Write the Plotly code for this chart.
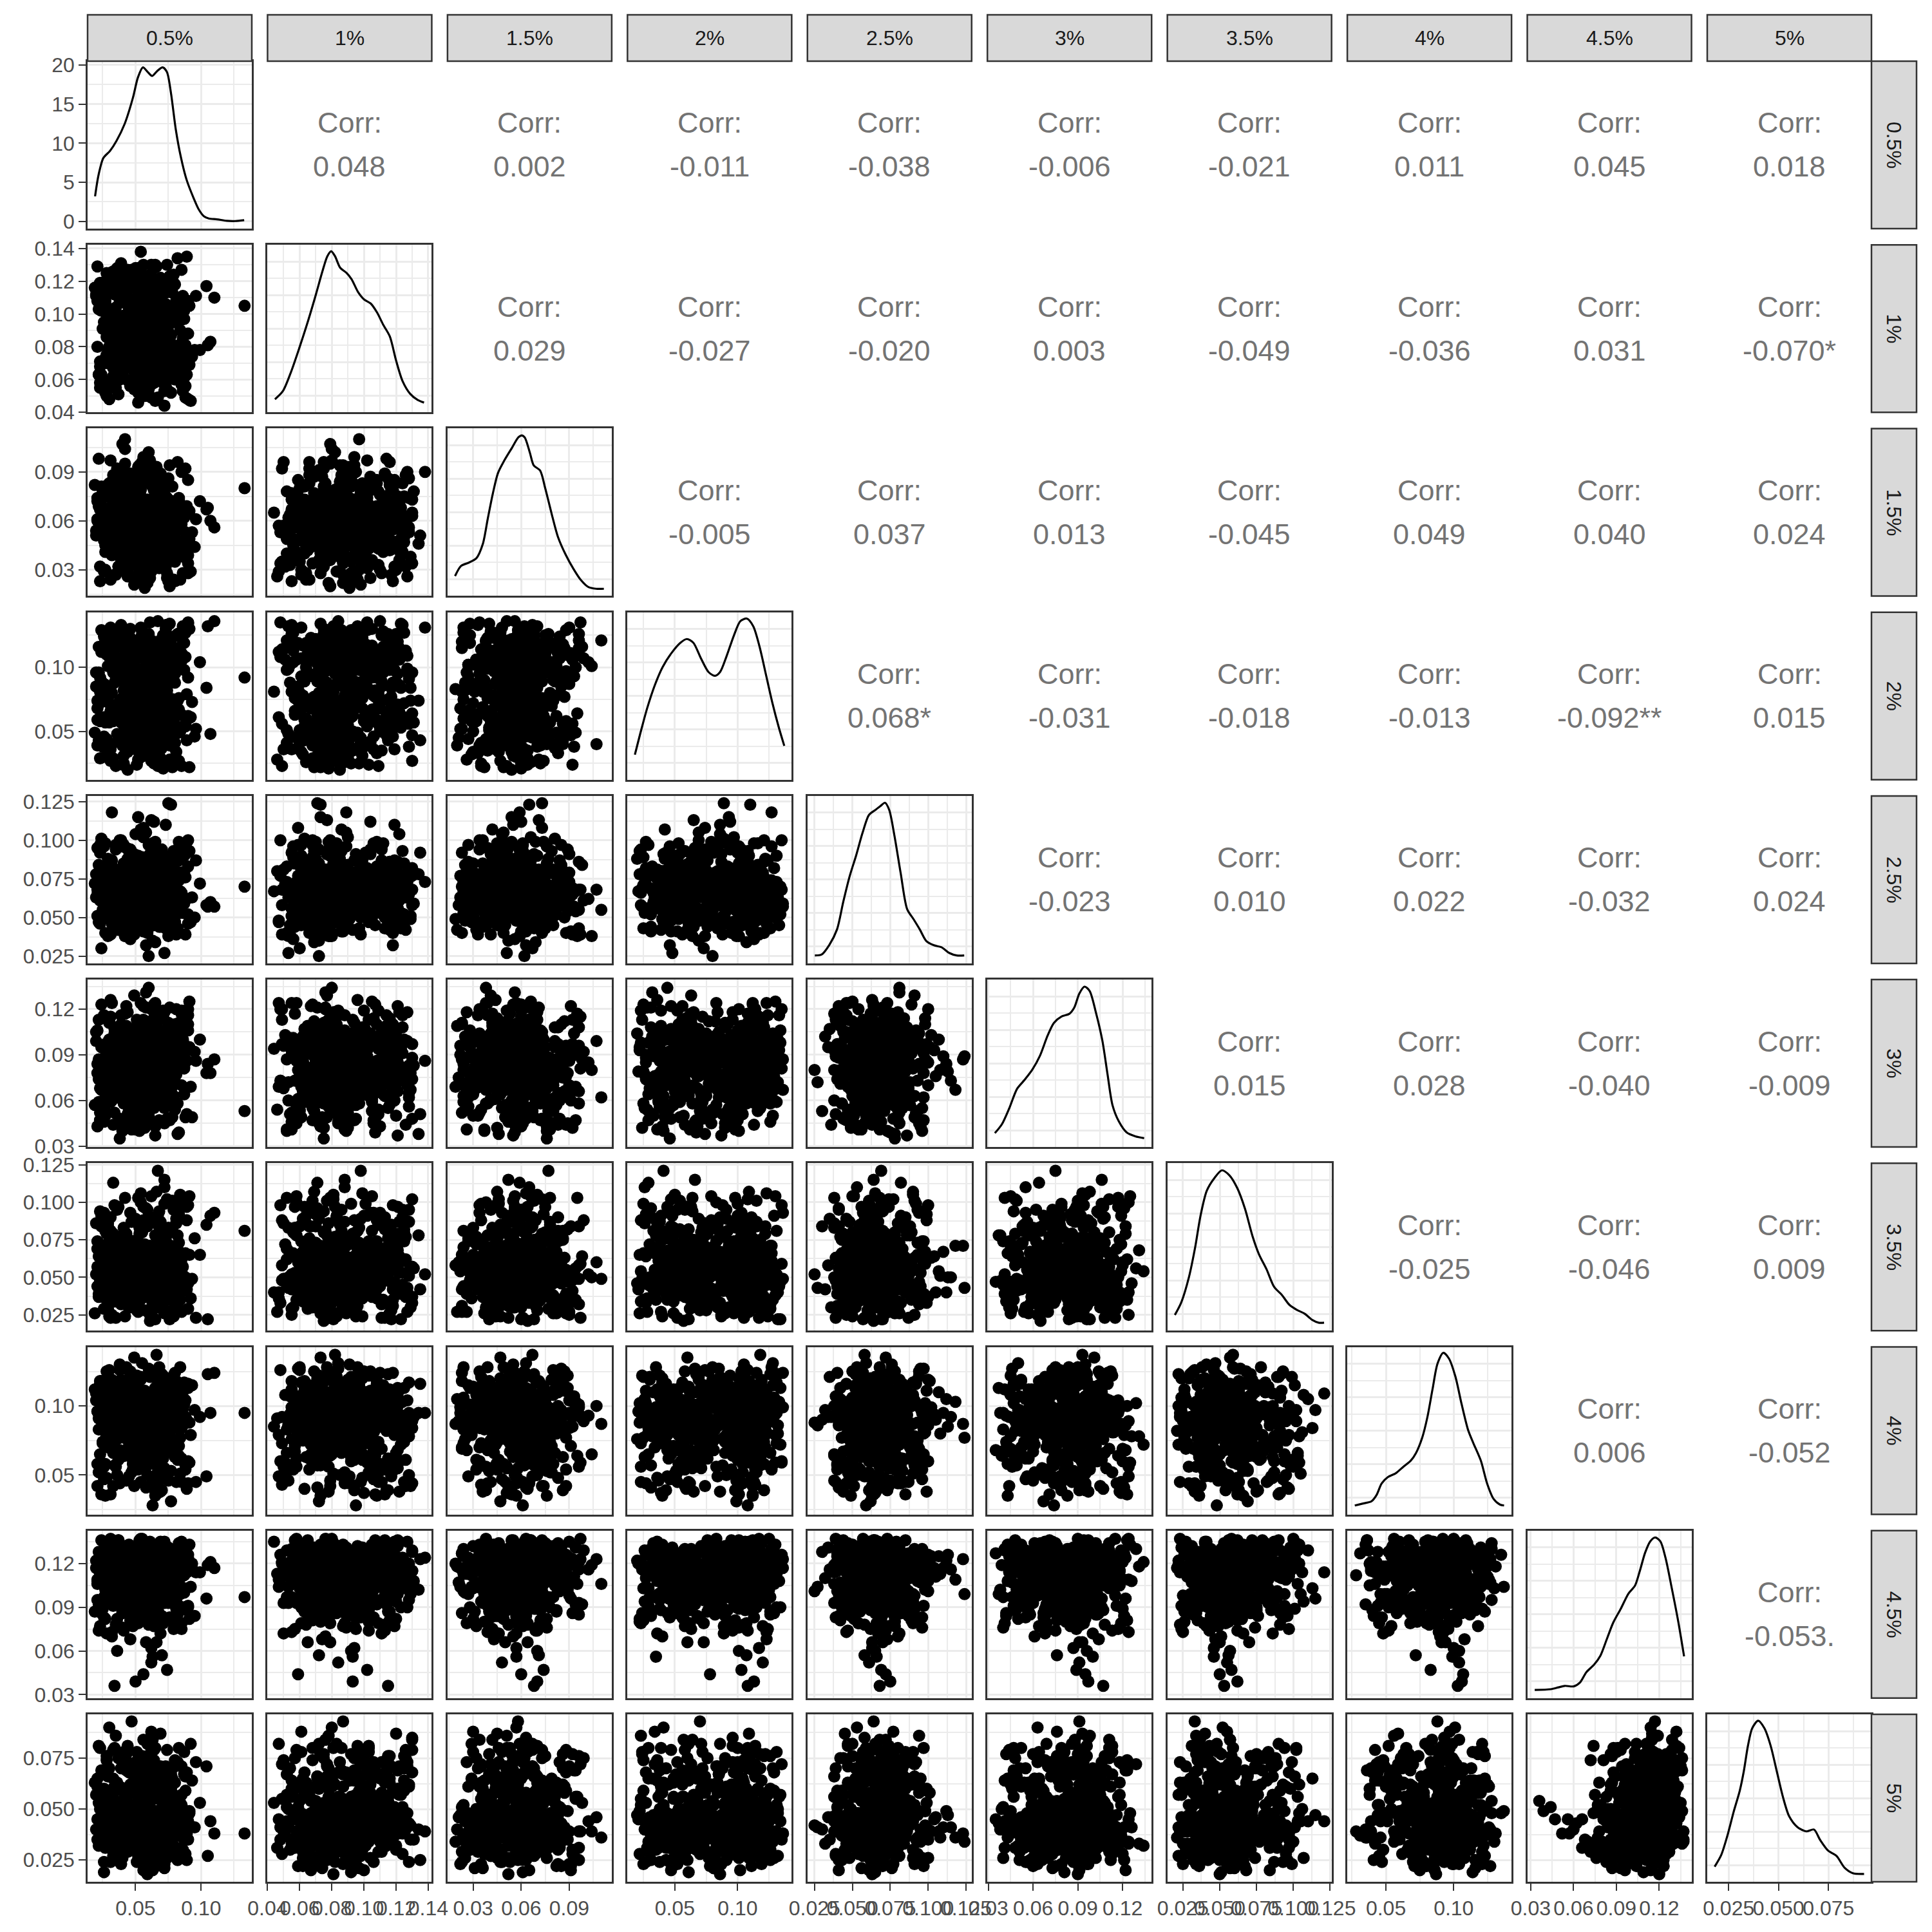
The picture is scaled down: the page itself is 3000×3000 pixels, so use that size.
import plotly.graph_objects as go

FONT = "Liberation Sans, Arial, Helvetica, sans-serif"

LABELS = ["0.5%", "1%", "1.5%", "2%", "2.5%", "3%", "3.5%", "4%", "4.5%", "5%"]

# ---- observations, in thousandths (per mille) ----
V1 = [62, 47, 71, 33, 58, 80, 19, 66, 53, 41, 74, 56, 38, 69, 88, 51, 27, 63, 45, 60,
      49, 67, 23, 57, 78, 42, 70, 31, 64, 55, 36, 59, 73, 46, 84, 65, 52, 29, 68, 105,
      54, 77, 61, 44, 22, 72, 39, 57, 66, 91, 68, 50, 35, 63, 81, 47, 59, 26, 74, 43,
      57, 40, 69, 52, 86, 62, 33, 71, 48, 24, 45, 73, 58, 37, 65, 54, 79, 67, 30, 61,
      71, 28, 55, 64, 43, 76, 50, 60, 38, 82, 53, 66, 20, 70, 48, 59, 35, 75, 62, 46,
      63, 41, 77, 56, 31, 68, 52, 87, 45, 72, 39, 58, 65, 25, 73, 49, 61, 80, 54, 67,
      75, 51, 44, 69, 34, 62, 57, 93, 47, 64, 60, 32, 72, 55, 83, 42, 66, 50, 21, 70,
      48, 67, 56, 76, 40, 63, 28, 59, 73, 52, 66, 43, 61, 36, 71, 54, 78, 46, 64, 110,
      55, 74, 29, 65, 50, 85, 58, 39, 69, 44, 70, 38, 62, 53, 77, 47, 67, 60, 23, 56,
      42, 64, 71, 34, 58, 81, 51, 68, 45, 89, 59, 27, 68, 49, 74, 61, 37, 55, 79, 65,
      73, 52, 40, 66, 57, 30, 70, 46, 62, 104, 47, 69, 60, 83, 43, 56, 72, 33, 64, 51,
      65, 36, 54, 71, 26, 59, 48, 76, 41, 68, 57, 80, 45, 62, 38, 67, 53, 73, 31, 96,
      40, 63, 75, 50, 58, 22, 69, 44, 61, 54, 68, 49, 32, 72, 60, 46, 78, 56, 133, 35,
      58, 35, 66, 49, 72, 27, 61, 54, 83, 44, 69, 52, 41, 76, 60, 88, 47, 65, 30, 57,
      46, 63, 55, 21, 70, 38, 79, 59, 67, 51, 73, 43, 62, 56, 34, 68, 50, 81, 64, 39,
      55, 99, 48, 71, 60, 42, 66, 28, 75, 53, 64, 57, 37, 69, 45, 85, 52, 61, 33, 72,
      40, 70, 59, 24, 63, 54, 77, 47, 68, 56, 67, 49, 74, 58, 36, 62, 44, 70, 90, 51,
      53, 61, 32, 66, 80, 46, 57, 73, 41, 65, 71, 45, 60, 52, 68, 29, 64, 55, 78, 38,
      48, 76, 54, 43, 62, 107, 69, 36, 58, 66, 62, 39, 70, 57, 50, 74, 26, 65, 47, 82,
      56, 68, 45, 61, 35, 72, 53, 84, 60, 42, 74, 31, 64, 50, 59, 67, 40, 55, 71, 20,
      44, 63, 57, 78, 48, 65, 34, 69, 52, 61, 60, 53, 87, 37, 66, 56, 73, 43, 62, 49,
      69, 42, 58, 64, 25, 71, 51, 67, 39, 76, 51, 72, 46, 59, 81, 54, 63, 33, 68, 57,
      65, 37, 61, 73, 44, 58, 70, 49, 95, 55, 57, 66, 50, 41, 69, 62, 30, 75, 54, 63,
      34, 71, 26, 58, 85, 43, 67, 22, 79, 50, 88, 39, 62, 30, 75, 55, 47, 83, 24, 66,
      52, 28, 80, 45, 36, 91, 60, 33, 73, 41, 69, 57, 23, 86, 48, 77, 31, 64, 38, 82,
      29, 74, 54, 40, 90, 35, 68, 51, 27, 61, 81, 46, 32, 72, 59, 25, 87, 42, 65, 37,
      44, 89, 70, 27, 53, 78, 36, 84, 56, 21, 63, 33, 84, 49, 22, 67, 92, 40, 76, 30,
      26, 58, 44, 81, 70, 32, 54, 87, 23, 75, 86, 41, 65, 35, 79, 48, 28, 62, 89, 53,
      37, 76, 24, 60, 45, 83, 71, 29, 50, 68, 72, 52, 88, 31, 64, 21, 46, 78, 39, 85,
      47, 23, 69, 90, 38, 57, 82, 34, 63, 28, 59, 85, 39, 74, 27, 61, 43, 90, 31, 80]

V2 = [83, 71, 104, 62, 95, 77, 116, 88, 57, 99, 76, 92, 68, 110, 81, 123, 73, 101, 86, 64,
      98, 79, 58, 87, 113, 70, 94, 82, 107, 75, 66, 85, 119, 74, 90, 103, 52, 78, 96, 81,
      109, 72, 84, 126, 63, 97, 79, 115, 88, 69, 80, 100, 61, 93, 76, 117, 86, 55, 105, 73,
      91, 67, 112, 78, 85, 130, 71, 99, 83, 60, 74, 106, 89, 65, 121, 80, 95, 77, 48, 102,
      87, 75, 98, 118, 70, 84, 62, 108, 91, 79, 64, 82, 111, 77, 94, 72, 125, 86, 103, 56,
      101, 89, 73, 59, 96, 81, 114, 68, 78, 92, 76, 120, 84, 104, 66, 90, 75, 99, 138, 83,
      93, 70, 87, 111, 79, 61, 102, 74, 88, 116, 82, 97, 53, 76, 107, 85, 69, 123, 80, 94,
      71, 114, 90, 78, 63, 100, 86, 73, 96, 46, 105, 79, 67, 92, 84, 118, 75, 89, 58, 110,
      88, 74, 101, 81, 128, 66, 95, 78, 113, 85, 62, 91, 77, 106, 72, 87, 98, 54, 119, 80,
      97, 68, 84, 115, 76, 103, 89, 71, 93, 135, 78, 108, 60, 86, 94, 73, 121, 82, 100, 69,
      85, 77, 112, 65, 90, 80, 104, 75, 57, 117, 109, 83, 72, 96, 79, 130, 88, 67, 101, 91,
      74, 99, 86, 61, 114, 81, 70, 94, 107, 77, 90, 66, 103, 84, 75, 120, 92, 55, 82, 111,
      79, 95, 71, 108, 87, 63, 98, 76, 124, 83, 102, 73, 89, 44, 80, 116, 68, 93, 105, 78,
      88, 104, 73, 95, 61, 117, 82, 77, 99, 109, 70, 86, 113, 79, 92, 56, 101, 84, 125, 74,
      97, 65, 81, 108, 76, 90, 119, 71, 85, 103, 80, 112, 94, 59, 87, 75, 106, 98, 68, 131,
      106, 78, 66, 91, 114, 83, 72, 100, 89, 52, 74, 96, 121, 85, 69, 103, 79, 110, 93, 81,
      115, 82, 90, 63, 99, 77, 87, 127, 71, 94, 84, 71, 102, 118, 80, 58, 96, 75, 108, 88,
      93, 110, 76, 86, 67, 124, 81, 103, 79, 47, 78, 89, 100, 73, 111, 95, 62, 84, 116, 91,
      102, 67, 85, 97, 77, 83, 120, 70, 105, 86, 89, 116, 72, 80, 107, 64, 92, 78, 98, 134,
      71, 93, 109, 84, 55, 88, 101, 76, 115, 80, 96, 79, 87, 122, 74, 105, 68, 91, 83, 112,
      83, 101, 65, 78, 94, 117, 86, 73, 128, 90, 109, 75, 97, 88, 70, 82, 113, 60, 99, 77,
      81, 122, 79, 104, 91, 72, 87, 118, 66, 95, 73, 90, 83, 61, 108, 99, 76, 85, 106, 50,
      100, 87, 119, 75, 82, 69, 111, 94, 78, 92, 86, 76, 93, 107, 63, 89, 80, 102, 121, 72,
      112, 58, 95, 71, 127, 84, 49, 103, 66, 119, 77, 124, 62, 99, 53, 116, 88, 70, 107, 129,
      91, 50, 118, 82, 64, 105, 74, 126, 56, 97, 122, 86, 68, 111, 94, 52, 80, 128, 60, 101,
      59, 104, 125, 75, 48, 93, 115, 65, 120, 83, 98, 72, 55, 121, 87, 109, 61, 79, 130, 51,
      117, 63, 92, 106, 57, 73, 128, 96, 67, 110, 69, 120, 81, 54, 114, 100, 47, 89, 123, 76,
      106, 87, 127, 64, 78, 119, 58, 102, 71, 94, 53, 97, 73, 113, 124, 66, 90, 49, 108, 85,
      126, 76, 102, 59, 91, 81, 117, 70, 55, 114, 84, 113, 49, 96, 68, 129, 104, 61, 92, 57,
      100, 55, 122, 88, 108, 62, 75, 118, 83, 125, 66, 109, 79, 130, 52, 95, 121, 73, 113, 60]

V3 = [29, 58, 44, 71, 63, 50, 82, 37, 66, 55, 46, 61, 48, 76, 53, 68, 41, 59, 88, 64,
      21, 52, 67, 34, 60, 74, 57, 47, 80, 62, 92, 70, 55, 43, 65, 51, 78, 59, 39, 68,
      61, 47, 62, 58, 73, 36, 54, 66, 85, 49, 71, 64, 27, 57, 69, 45, 60, 77, 52, 40,
      19, 56, 72, 50, 38, 63, 59, 83, 46, 67, 70, 60, 49, 66, 55, 75, 42, 61, 53, 97,
      48, 45, 58, 79, 63, 52, 68, 33, 57, 64, 24, 67, 54, 41, 72, 59, 47, 86, 62, 56,
      81, 53, 65, 60, 44, 76, 51, 69, 58, 35, 50, 62, 39, 57, 71, 48, 64, 55, 90, 66,
      60, 58, 74, 46, 61, 30, 67, 53, 78, 43, 102, 69, 51, 63, 56, 84, 45, 59, 72, 38,
      62, 48, 66, 57, 40, 65, 54, 73, 61, 26, 36, 59, 44, 70, 52, 63, 81, 49, 67, 56,
      47, 65, 57, 42, 74, 60, 50, 68, 89, 54, 52, 55, 71, 61, 46, 58, 77, 64, 32, 66,
      110, 63, 49, 68, 56, 43, 70, 59, 82, 51, 22, 57, 66, 37, 62, 54, 75, 48, 60, 69,
      55, 70, 53, 64, 45, 58, 87, 61, 41, 67, 61, 50, 62, 73, 59, 34, 65, 56, 79, 47,
      71, 66, 42, 57, 68, 52, 63, 94, 58, 39, 45, 54, 60, 48, 76, 64, 28, 67, 53, 61,
      107, 61, 73, 56, 50, 69, 58, 43, 83, 62, 31, 47, 59, 65, 38, 72, 55, 60, 80, 51,
      57, 64, 42, 53, 71, 60, 48, 79, 66, 33, 62, 50, 69, 20, 58, 45, 75, 56, 63, 87,
      54, 67, 39, 61, 52, 84, 59, 70, 47, 64, 68, 46, 57, 73, 27, 63, 55, 41, 60, 78,
      59, 72, 50, 65, 56, 44, 91, 62, 53, 37, 43, 61, 66, 49, 77, 58, 64, 30, 55, 70,
      65, 53, 60, 81, 45, 68, 38, 57, 62, 99, 51, 58, 74, 63, 40, 56, 69, 48, 85, 23,
      66, 44, 55, 61, 72, 50, 59, 35, 67, 57, 60, 70, 47, 54, 64, 82, 52, 63, 42, 74,
      37, 57, 63, 68, 51, 60, 45, 76, 58, 93, 62, 49, 71, 56, 66, 28, 61, 54, 80, 46,
      55, 64, 43, 59, 73, 52, 67, 40, 58, 104, 70, 58, 61, 48, 55, 79, 34, 65, 60, 51,
      46, 63, 57, 72, 39, 60, 53, 68, 86, 25, 59, 52, 66, 44, 62, 56, 75, 49, 64, 41,
      64, 71, 50, 60, 57, 36, 69, 55, 83, 47, 53, 60, 45, 67, 58, 63, 42, 77, 54, 96,
      68, 56, 62, 32, 65, 50, 59, 73, 44, 61, 58, 47, 70, 61, 54, 88, 57, 43, 66, 52,
      41, 77, 29, 63, 90, 52, 35, 70, 24, 85, 68, 33, 82, 47, 59, 96, 26, 74, 55, 38,
      93, 57, 23, 79, 44, 66, 31, 88, 49, 72, 36, 84, 61, 28, 71, 40, 97, 53, 80, 46,
      75, 25, 50, 92, 34, 62, 86, 42, 30, 67, 54, 89, 39, 58, 22, 78, 48, 95, 65, 32,
      27, 64, 81, 45, 73, 37, 56, 24, 91, 60, 87, 43, 70, 33, 98, 51, 29, 76, 40, 83,
      48, 94, 26, 66, 55, 84, 38, 62, 72, 23, 62, 30, 76, 52, 41, 88, 57, 35, 69, 94,
      32, 71, 58, 85, 27, 46, 79, 65, 37, 53, 80, 45, 92, 24, 60, 74, 34, 50, 86, 42,
      57, 23, 67, 39, 83, 29, 96, 44, 61, 75, 96, 60, 36, 73, 49, 90, 63, 28, 54, 35]

V4 = [58, 103, 41, 117, 72, 88, 49, 110, 79, 31, 97, 66, 121, 53, 108, 84, 37, 62, 129, 100,
      45, 112, 76, 95, 59, 119, 68, 27, 104, 90, 106, 51, 86, 123, 63, 39, 98, 74, 114, 132,
      70, 99, 57, 113, 43, 81, 107, 118, 48, 22, 115, 61, 93, 35, 101, 77, 52, 126, 67, 109,
      83, 47, 105, 64, 120, 96, 29, 111, 56, 73, 38, 102, 69, 116, 87, 54, 124, 60, 108, 135,
      111, 75, 44, 98, 122, 58, 91, 33, 104, 66, 60, 118, 85, 50, 106, 71, 127, 40, 96, 113,
      92, 55, 110, 78, 36, 103, 64, 119, 46, 25, 117, 69, 99, 42, 112, 82, 57, 105, 131, 74,
      50, 107, 62, 89, 120, 34, 100, 73, 115, 59, 104, 80, 48, 125, 67, 94, 109, 53, 39, 121,
      63, 114, 97, 56, 76, 102, 44, 118, 85, 28, 109, 37, 71, 101, 52, 123, 90, 65, 106, 136,
      78, 99, 118, 45, 61, 111, 83, 128, 54, 20, 47, 105, 65, 93, 116, 70, 41, 102, 58, 113,
      121, 55, 87, 108, 32, 97, 75, 114, 62, 43, 68, 112, 51, 104, 79, 122, 59, 95, 38, 107,
      100, 43, 116, 73, 90, 57, 110, 130, 66, 84, 56, 119, 80, 49, 103, 64, 26, 115, 96, 71,
      113, 68, 42, 107, 124, 86, 53, 100, 77, 35, 74, 95, 61, 120, 46, 109, 67, 133, 103, 52,
      40, 108, 89, 57, 117, 72, 101, 48, 111, 30, 102, 60, 127, 81, 44, 98, 115, 63, 92, 23,
      33, 96, 44, 112, 67, 85, 53, 119, 76, 104, 48, 62, 108, 39, 91, 127, 57, 100, 72, 115,
      88, 110, 81, 59, 121, 43, 98, 66, 106, 24, 130, 51, 117, 74, 102, 64, 36, 113, 93, 57,
      78, 104, 69, 125, 47, 87, 111, 58, 97, 41, 101, 37, 95, 61, 116, 105, 73, 50, 122, 84,
      75, 118, 55, 89, 42, 110, 64, 99, 31, 107, 136, 71, 103, 46, 124, 79, 114, 60, 92, 52,
      65, 99, 40, 108, 68, 56, 120, 83, 45, 112, 21, 58, 114, 93, 35, 101, 77, 128, 49, 106,
      90, 123, 63, 100, 82, 48, 109, 70, 117, 38, 27, 45, 107, 55, 97, 119, 61, 86, 103, 74,
      59, 112, 78, 42, 115, 66, 94, 53, 126, 101, 132, 66, 120, 86, 50, 104, 39, 111, 72, 96,
      34, 103, 47, 116, 76, 61, 100, 121, 56, 88, 105, 54, 98, 70, 109, 44, 125, 80, 113, 63,
      29, 115, 60, 94, 38, 107, 85, 52, 119, 71, 43, 79, 111, 48, 102, 123, 57, 96, 67, 114,
      84, 92, 36, 106, 62, 118, 74, 101, 46, 129, 100, 60, 113, 82, 54, 97, 41, 108, 120, 69,
      128, 45, 87, 31, 109, 66, 23, 96, 75, 118, 54, 133, 78, 40, 99, 121, 62, 27, 112, 84,
      93, 36, 115, 70, 48, 130, 81, 58, 104, 25, 65, 107, 29, 125, 89, 51, 117, 38, 74, 100,
      119, 82, 61, 24, 135, 97, 43, 110, 57, 86, 34, 94, 123, 71, 52, 80, 131, 64, 27, 106,
      102, 59, 37, 113, 76, 22, 91, 127, 47, 68, 77, 126, 50, 88, 116, 39, 61, 101, 134, 33,
      46, 111, 96, 26, 67, 124, 83, 54, 92, 120, 132, 72, 40, 105, 58, 95, 30, 114, 79, 49,
      60, 28, 129, 85, 44, 108, 70, 122, 36, 98, 90, 114, 56, 131, 25, 74, 103, 42, 118, 63,
      39, 81, 106, 62, 97, 32, 126, 88, 53, 110, 115, 23, 69, 47, 121, 87, 56, 134, 101, 41]

V5 = [68, 57, 91, 79, 63, 47, 72, 84, 60, 52, 71, 64, 100, 55, 76, 43, 69, 81, 59, 66,
      58, 74, 61, 66, 50, 62, 87, 70, 45, 78, 65, 53, 110, 73, 60, 80, 68, 38, 75, 57,
      77, 62, 51, 48, 70, 56, 67, 83, 64, 93, 60, 72, 97, 66, 54, 79, 41, 69, 63, 74,
      49, 67, 56, 75, 61, 58, 82, 71, 65, 30, 73, 59, 105, 64, 86, 52, 70, 62, 77, 68,
      63, 76, 89, 55, 69, 72, 46, 60, 80, 66, 70, 58, 78, 81, 65, 50, 74, 61, 67, 36,
      57, 68, 123, 72, 63, 85, 54, 76, 59, 71, 66, 79, 95, 61, 44, 70, 64, 56, 73, 82,
      74, 52, 58, 67, 60, 77, 69, 63, 48, 84, 62, 71, 27, 57, 75, 66, 90, 53, 68, 73,
      69, 64, 102, 78, 55, 61, 72, 40, 66, 80, 59, 75, 74, 65, 70, 51, 63, 83, 68, 57,
      72, 60, 65, 47, 67, 79, 62, 71, 54, 88, 66, 76, 113, 58, 73, 64, 69, 45, 78, 61,
      55, 70, 71, 68, 81, 60, 74, 65, 52, 92, 77, 63, 62, 59, 67, 72, 56, 80, 69, 34,
      64, 73, 98, 70, 49, 66, 75, 61, 85, 58, 71, 57, 25, 76, 62, 68, 53, 79, 65, 74,
      60, 69, 107, 54, 72, 63, 82, 67, 58, 76, 73, 65, 62, 61, 78, 46, 70, 56, 66, 87,
      68, 59, 124, 74, 64, 71, 50, 77, 63, 69, 57, 72, 118, 67, 81, 42, 61, 75, 70, 94,
      66, 74, 58, 76, 81, 63, 49, 70, 87, 61, 55, 69, 72, 42, 64, 96, 59, 77, 52, 68,
      73, 60, 47, 65, 67, 79, 62, 71, 84, 57, 68, 82, 63, 108, 54, 70, 75, 39, 66, 59,
      61, 72, 85, 66, 68, 50, 64, 78, 56, 73, 77, 57, 65, 46, 71, 62, 90, 53, 69, 80,
      64, 70, 54, 101, 76, 67, 58, 73, 44, 61, 59, 78, 69, 32, 62, 51, 74, 66, 83, 70,
      72, 63, 80, 93, 56, 68, 60, 75, 65, 48, 67, 55, 73, 115, 64, 77, 70, 59, 86, 62,
      53, 71, 66, 81, 79, 60, 45, 69, 74, 57, 75, 62, 58, 63, 68, 72, 65, 99, 56, 78,
      60, 76, 70, 88, 51, 64, 82, 67, 73, 38, 69, 57, 74, 104, 66, 61, 78, 54, 71, 63,
      63, 80, 48, 55, 72, 69, 59, 76, 65, 84, 71, 66, 79, 73, 58, 74, 43, 68, 62, 91,
      56, 73, 63, 112, 70, 85, 67, 60, 77, 52, 74, 61, 69, 59, 55, 65, 72, 47, 80, 68,
      65, 70, 57, 78, 76, 62, 94, 73, 50, 66, 62, 68, 75, 97, 60, 71, 53, 64, 79, 35,
      52, 88, 66, 41, 79, 95, 58, 47, 73, 84, 91, 45, 70, 62, 38, 86, 54, 99, 64, 49,
      68, 81, 40, 93, 57, 50, 76, 63, 89, 43, 44, 60, 97, 53, 71, 83, 39, 67, 56, 92,
      77, 48, 85, 69, 100, 42, 61, 80, 51, 65, 59, 94, 46, 75, 63, 55, 90, 38, 82, 72,
      86, 62, 57, 98, 44, 78, 67, 53, 41, 95, 50, 74, 90, 39, 84, 65, 47, 96, 70, 58,
      96, 41, 64, 80, 52, 87, 73, 59, 46, 76, 63, 85, 49, 58, 93, 40, 81, 68, 99, 54,
      42, 70, 82, 97, 60, 74, 48, 88, 56, 66, 81, 55, 39, 67, 89, 51, 94, 45, 77, 62,
      71, 92, 61, 46, 57, 83, 43, 69, 98, 50, 55, 66, 100, 77, 40, 91, 64, 52, 85, 47]

V6 = [91, 78, 102, 66, 48, 85, 57, 96, 73, 108, 88, 99, 70, 81, 117, 94, 60, 106, 76, 92,
      75, 95, 86, 52, 63, 100, 68, 90, 83, 111, 97, 72, 89, 104, 101, 79, 41, 93, 58, 84,
      82, 67, 98, 77, 74, 91, 110, 55, 87, 95, 93, 85, 62, 100, 120, 71, 88, 46, 96, 80,
      69, 92, 79, 107, 99, 97, 64, 83, 90, 53, 86, 101, 76, 94, 37, 59, 89, 112, 73, 81,
      96, 66, 91, 84, 70, 103, 78, 50, 95, 87, 80, 93, 105, 61, 92, 88, 98, 75, 82, 44,
      99, 74, 87, 95, 126, 68, 109, 90, 56, 79, 71, 89, 97, 81, 105, 102, 65, 94, 86, 77,
      92, 58, 84, 100, 69, 76, 93, 49, 88, 114, 85, 96, 72, 90, 39, 63, 98, 82, 106, 79,
      94, 80, 103, 67, 83, 91, 86, 74, 99, 54, 77, 90, 61, 96, 119, 84, 108, 70, 93, 87,
      100, 73, 88, 82, 65, 97, 57, 92, 78, 104, 86, 95, 79, 45, 98, 91, 75, 101, 68, 89,
      62, 93, 85, 107, 131, 80, 94, 72, 97, 51, 90, 83, 98, 76, 81, 60, 89, 103, 74, 95,
      97, 70, 87, 93, 42, 111, 66, 84, 99, 78, 73, 92, 80, 102, 109, 88, 55, 96, 85, 64,
      94, 78, 100, 69, 116, 90, 82, 47, 97, 75, 87, 96, 63, 91, 35, 105, 77, 93, 71, 86,
      99, 74, 89, 81, 92, 59, 95, 84, 108, 68, 82, 101, 67, 94, 134, 76, 90, 113, 53, 98,
      95, 83, 71, 99, 88, 62, 104, 77, 92, 51, 86, 97, 75, 109, 66, 93, 81, 57, 100, 90,
      73, 91, 102, 84, 94, 48, 78, 98, 68, 113, 98, 64, 87, 80, 96, 103, 72, 89, 55, 83,
      82, 100, 93, 69, 107, 85, 60, 95, 76, 40, 91, 77, 97, 88, 53, 101, 94, 66, 86, 118,
      104, 70, 84, 95, 79, 90, 58, 99, 74, 92, 67, 94, 89, 102, 83, 45, 96, 80, 110, 87,
      93, 85, 61, 98, 76, 91, 105, 71, 100, 124, 79, 101, 92, 73, 97, 87, 82, 50, 94, 63,
      96, 68, 99, 86, 112, 78, 93, 84, 59, 104, 88, 92, 76, 103, 65, 95, 81, 97, 70, 38,
      101, 83, 94, 57, 90, 106, 74, 88, 96, 80, 72, 97, 85, 93, 100, 61, 91, 78, 115, 99,
      94, 80, 103, 75, 87, 96, 52, 102, 83, 69, 85, 99, 64, 92, 108, 79, 95, 90, 73, 129,
      98, 74, 91, 84, 56, 100, 87, 67, 97, 81, 77, 95, 102, 89, 71, 93, 111, 82, 47, 96,
      90, 86, 68, 99, 94, 76, 84, 105, 92, 60, 83, 93, 97, 78, 101, 88, 63, 95, 85, 107,
      104, 57, 88, 121, 70, 46, 97, 113, 63, 80, 49, 116, 75, 92, 60, 108, 41, 85, 123, 67,
      94, 68, 110, 53, 82, 125, 73, 44, 101, 58, 118, 83, 47, 99, 64, 87, 115, 56, 78, 106,
      61, 102, 79, 42, 120, 71, 91, 109, 50, 86, 89, 45, 124, 66, 96, 54, 81, 117, 74, 103,
      72, 107, 59, 114, 48, 93, 62, 84, 122, 43, 112, 76, 95, 51, 87, 119, 69, 40, 98, 65,
      55, 90, 118, 77, 105, 60, 124, 82, 47, 111, 100, 64, 43, 108, 73, 96, 52, 120, 86, 69,
      80, 121, 67, 91, 56, 111, 84, 72, 41, 95, 45, 98, 113, 59, 123, 78, 104, 49, 90, 117,
      86, 52, 73, 116, 44, 102, 58, 94, 110, 76, 66, 119, 85, 48, 97, 63, 122, 106, 71, 54]

V7 = [52, 40, 63, 34, 71, 47, 26, 57, 83, 44, 45, 58, 37, 66, 50, 75, 61, 42, 55, 91,
      60, 31, 49, 72, 54, 43, 51, 64, 38, 80, 41, 56, 67, 47, 35, 59, 103, 86, 50, 22,
      53, 69, 44, 62, 39, 57, 32, 48, 77, 65, 36, 51, 74, 46, 60, 55, 95, 29, 67, 42,
      58, 43, 54, 70, 48, 37, 113, 62, 52, 84, 49, 63, 40, 56, 78, 45, 24, 66, 33, 59,
      62, 47, 57, 35, 68, 51, 89, 42, 73, 53, 44, 59, 52, 65, 39, 48, 61, 81, 56, 30,
      55, 38, 71, 50, 46, 63, 67, 41, 58, 99, 47, 64, 53, 42, 76, 57, 21, 36, 52, 69,
      60, 45, 50, 66, 34, 55, 41, 49, 87, 62, 52, 70, 43, 58, 48, 61, 107, 39, 74, 54,
      37, 56, 63, 46, 53, 68, 79, 44, 51, 27, 65, 49, 40, 57, 72, 45, 50, 59, 35, 93,
      43, 54, 61, 48, 38, 66, 58, 52, 82, 46, 57, 41, 50, 71, 55, 33, 121, 64, 47, 60,
      49, 62, 45, 53, 68, 40, 28, 56, 75, 42, 54, 36, 59, 47, 64, 51, 97, 43, 70, 58,
      41, 55, 67, 50, 44, 60, 63, 38, 53, 85, 58, 46, 52, 73, 39, 57, 110, 48, 65, 31,
      45, 61, 54, 42, 69, 50, 62, 35, 56, 78, 51, 39, 64, 55, 47, 59, 53, 44, 77, 23,
      60, 48, 43, 66, 52, 37, 68, 57, 90, 50, 46, 57, 71, 40, 54, 62, 101, 49, 81, 34,
      48, 56, 35, 64, 43, 81, 71, 52, 39, 60, 54, 41, 62, 27, 50, 66, 58, 45, 74, 37,
      61, 47, 53, 69, 33, 58, 55, 42, 85, 49, 38, 59, 46, 51, 76, 94, 44, 63, 30, 56,
      52, 65, 40, 57, 48, 24, 36, 68, 54, 45, 44, 53, 72, 49, 60, 62, 41, 57, 79, 34,
      57, 36, 48, 63, 55, 46, 67, 43, 50, 88, 49, 62, 58, 42, 70, 104, 31, 54, 46, 65,
      63, 45, 51, 38, 57, 53, 48, 74, 60, 40, 42, 55, 67, 50, 35, 29, 61, 47, 83, 56,
      59, 50, 44, 73, 52, 91, 40, 64, 37, 55, 46, 68, 56, 43, 62, 48, 51, 33, 58, 78,
      55, 39, 60, 53, 47, 115, 66, 42, 71, 50, 40, 58, 49, 64, 37, 52, 54, 61, 45, 86,
      66, 47, 54, 35, 59, 22, 44, 69, 51, 41, 51, 62, 43, 57, 73, 97, 48, 38, 63, 56,
      45, 53, 70, 40, 55, 58, 60, 47, 34, 80, 58, 36, 52, 65, 46, 106, 57, 43, 68, 49,
      53, 64, 41, 50, 59, 61, 32, 55, 76, 44, 47, 55, 62, 39, 72, 26, 52, 45, 58, 89,
      35, 78, 51, 96, 27, 64, 88, 43, 70, 56, 101, 45, 67, 24, 83, 58, 39, 92, 62, 30,
      54, 86, 31, 73, 49, 104, 60, 37, 80, 66, 75, 28, 94, 57, 41, 69, 23, 87, 46, 99,
      40, 63, 82, 34, 98, 52, 76, 29, 65, 90, 89, 47, 25, 68, 55, 85, 42, 103, 33, 72,
      61, 97, 53, 38, 79, 26, 95, 59, 84, 44, 32, 71, 105, 48, 64, 91, 36, 74, 22, 81,
      93, 56, 40, 86, 30, 61, 100, 45, 68, 27, 50, 83, 66, 23, 95, 39, 72, 58, 88, 34,
      77, 36, 91, 60, 44, 102, 28, 84, 52, 63, 26, 69, 48, 81, 35, 57, 93, 41, 75, 97,
      66, 42, 87, 29, 74, 50, 32, 98, 59, 80, 84, 54, 37, 102, 62, 25, 79, 47, 90, 43]

V8 = [92, 120, 78, 101, 64, 88, 112, 95, 71, 84, 97, 60, 86, 53, 104, 91, 75, 110, 94, 82,
      89, 42, 103, 70, 96, 114, 81, 93, 58, 99, 85, 50, 95, 108, 77, 90, 66, 100, 87, 123,
      102, 31, 74, 93, 83, 116, 91, 62, 97, 88, 94, 79, 80, 99, 69, 106, 89, 56, 92, 118,
      87, 65, 109, 76, 98, 93, 84, 48, 103, 90, 100, 105, 90, 81, 113, 72, 96, 88, 126, 59,
      91, 86, 68, 97, 85, 102, 79, 93, 44, 110, 83, 137, 104, 94, 61, 99, 89, 117, 73, 92,
      96, 67, 87, 107, 78, 91, 55, 101, 84, 121, 89, 101, 98, 74, 94, 112, 82, 63, 95, 86,
      105, 77, 80, 92, 70, 97, 88, 115, 52, 103, 93, 119, 86, 100, 64, 90, 108, 79, 96, 39,
      84, 82, 99, 88, 111, 75, 94, 57, 102, 91, 97, 46, 72, 104, 87, 93, 66, 100, 83, 124,
      90, 92, 106, 81, 95, 62, 98, 89, 113, 76, 101, 130, 85, 69, 96, 88, 109, 94, 54, 99,
      87, 60, 93, 103, 78, 91, 73, 97, 84, 116, 95, 35, 81, 90, 107, 67, 100, 86, 122, 92,
      83, 104, 102, 94, 74, 89, 111, 79, 98, 49, 99, 118, 88, 71, 96, 84, 105, 93, 64, 90,
      92, 76, 110, 80, 97, 87, 58, 102, 85, 128, 86, 91, 95, 104, 68, 93, 82, 99, 114, 45,
      100, 28, 77, 89, 96, 108, 63, 94, 88, 121, 91, 135, 103, 85, 72, 98, 115, 81, 95, 56,
      90, 84, 101, 73, 95, 110, 88, 119, 62, 97, 98, 79, 92, 105, 86, 54, 94, 90, 113, 81,
      87, 103, 68, 96, 91, 82, 108, 76, 93, 122, 94, 89, 100, 80, 115, 60, 97, 45, 85, 92,
      103, 92, 77, 99, 88, 106, 71, 125, 94, 83, 85, 96, 109, 90, 64, 101, 87, 93, 79, 98,
      91, 74, 95, 118, 84, 93, 100, 104, 57, 89, 99, 88, 83, 97, 107, 78, 92, 86, 116, 70,
      82, 102, 90, 66, 94, 87, 111, 100, 96, 49, 96, 81, 104, 92, 86, 120, 75, 131, 99, 90,
      88, 111, 93, 78, 101, 95, 59, 84, 86, 107, 102, 90, 72, 98, 83, 92, 114, 38, 80, 95,
      93, 86, 99, 108, 76, 97, 89, 91, 123, 65, 80, 97, 89, 94, 103, 52, 98, 96, 85, 109,
      95, 104, 84, 67, 92, 100, 82, 74, 117, 88, 89, 93, 112, 87, 98, 79, 95, 128, 61, 102,
      97, 82, 91, 105, 73, 94, 86, 90, 100, 114, 84, 100, 96, 89, 118, 81, 104, 99, 91, 56,
      101, 87, 79, 95, 90, 109, 69, 42, 97, 93, 92, 98, 106, 83, 96, 77, 101, 85, 88, 121,
      115, 62, 98, 41, 84, 127, 73, 52, 106, 90, 57, 103, 80, 120, 46, 94, 68, 111, 36, 88,
      96, 48, 124, 71, 109, 59, 85, 42, 100, 77, 38, 87, 65, 101, 118, 53, 92, 78, 126, 61,
      104, 76, 45, 93, 60, 113, 39, 82, 97, 121, 70, 122, 89, 55, 99, 74, 117, 64, 44, 108,
      93, 40, 112, 81, 67, 102, 50, 128, 86, 58, 125, 66, 51, 107, 91, 37, 79, 95, 72, 110,
      47, 99, 83, 63, 123, 88, 56, 105, 116, 69, 86, 114, 35, 95, 75, 54, 119, 43, 90, 103,
      61, 79, 106, 127, 49, 97, 84, 70, 112, 39, 108, 54, 92, 73, 100, 42, 125, 87, 63, 95,
      78, 118, 60, 44, 110, 82, 101, 57, 94, 74, 99, 45, 119, 89, 58, 104, 68, 113, 36, 84]

V9 = [118, 104, 126, 99, 95, 113, 87, 121, 109, 130, 115, 124, 101, 117, 119, 90, 111, 128, 106, 78,
      107, 120, 113, 133, 98, 125, 84, 116, 122, 103, 123, 96, 117, 68, 110, 88, 129, 114, 102, 119,
      112, 127, 105, 115, 118, 93, 121, 108, 131, 82, 100, 116, 122, 56, 89, 113, 126, 97, 119, 110,
      120, 108, 94, 112, 124, 115, 103, 118, 86, 128, 117, 126, 111, 136, 99, 121, 75, 114, 106, 123,
      109, 119, 86, 118, 116, 130, 101, 122, 113, 92, 125, 104, 117, 107, 120, 96, 111, 127, 80, 115,
      114, 91, 123, 44, 108, 118, 129, 100, 121, 116, 102, 120, 113, 119, 126, 85, 117, 110, 124, 97,
      122, 111, 98, 72, 115, 132, 106, 120, 90, 118, 116, 127, 104, 137, 119, 112, 94, 123, 109, 121,
      108, 118, 125, 83, 87, 114, 120, 101, 128, 113, 121, 99, 116, 60, 110, 124, 105, 119, 93, 117,
      113, 124, 107, 112, 120, 89, 116, 130, 102, 122, 119, 103, 126, 125, 95, 117, 114, 121, 77, 110,
      106, 122, 112, 36, 118, 100, 127, 115, 88, 123, 117, 92, 120, 114, 109, 125, 113, 98, 119, 131,
      124, 110, 116, 66, 84, 121, 104, 118, 126, 96, 111, 119, 101, 120, 123, 115, 129, 91, 117, 107,
      118, 97, 125, 79, 113, 120, 86, 122, 111, 134, 105, 121, 116, 52, 127, 94, 119, 108, 124, 114,
      123, 112, 99, 117, 118, 128, 102, 116, 120, 89, 115, 126, 109, 135, 121, 81, 124, 113, 97, 119,
      116, 109, 121, 124, 97, 119, 86, 113, 127, 104, 122, 101, 74, 118, 111, 130, 92, 117, 106, 125,
      110, 126, 134, 95, 120, 114, 103, 128, 88, 116, 119, 107, 62, 113, 124, 99, 121, 83, 115, 108,
      125, 114, 118, 102, 117, 91, 123, 111, 131, 97, 104, 120, 136, 127, 112, 118, 79, 122, 100, 115,
      117, 96, 105, 121, 108, 125, 113, 90, 119, 129, 123, 116, 47, 110, 98, 120, 132, 106, 124, 86,
      112, 128, 70, 119, 115, 103, 122, 94, 117, 109, 120, 105, 114, 116, 126, 112, 89, 118, 101, 123,
      99, 119, 118, 124, 107, 121, 115, 82, 127, 111, 126, 113, 57, 93, 122, 116, 109, 120, 131, 102,
      115, 121, 133, 110, 118, 96, 124, 112, 87, 119, 108, 123, 77, 117, 103, 128, 119, 114, 98, 122,
      121, 100, 85, 125, 113, 117, 92, 126, 110, 116, 118, 127, 103, 106, 120, 111, 122, 95, 115, 130,
      113, 117, 66, 122, 89, 119, 105, 124, 116, 100, 124, 110, 120, 97, 121, 114, 129, 108, 118, 93,
      106, 119, 135, 115, 125, 102, 117, 121, 84, 112, 117, 94, 39, 120, 111, 126, 114, 99, 123, 116,
      128, 96, 113, 84, 135, 107, 121, 74, 101, 118, 89, 124, 104, 131, 93, 116, 79, 110, 136, 99,
      119, 72, 127, 108, 98, 133, 87, 114, 125, 103, 105, 130, 91, 120, 77, 112, 137, 95, 109, 123,
      134, 100, 117, 86, 126, 94, 115, 129, 82, 111, 97, 121, 73, 132, 104, 119, 90, 106, 128, 116,
      113, 88, 124, 102, 136, 80, 118, 130, 96, 108, 126, 110, 99, 117, 92, 129, 104, 76, 122, 134,
      83, 131, 115, 94, 120, 101, 137, 112, 88, 127, 118, 103, 133, 78, 109, 125, 97, 121, 114, 92,
      107, 127, 86, 123, 99, 134, 111, 93, 130, 117, 132, 95, 120, 113, 81, 106, 128, 102, 119, 75,
      100, 116, 135, 91, 125, 112, 85, 131, 106, 122, 121, 79, 108, 129, 115, 98, 124, 90, 136, 103]

V10 = [41, 35, 52, 29, 45, 71, 63, 38, 48, 33, 37, 44, 26, 55, 40, 58, 31, 47, 68, 39,
       46, 33, 39, 61, 42, 43, 50, 24, 36, 75, 30, 48, 41, 35, 53, 80, 44, 66, 38, 27,
       43, 37, 56, 40, 32, 21, 46, 70, 34, 49, 39, 51, 36, 45, 28, 47, 42, 60, 38, 77,
       34, 44, 41, 54, 37, 85, 65, 30, 48, 40, 50, 38, 46, 33, 43, 36, 57, 25, 41, 72,
       42, 35, 62, 39, 47, 68, 31, 45, 52, 37, 36, 49, 40, 27, 44, 82, 59, 38, 34, 46,
       45, 32, 38, 51, 41, 55, 69, 35, 43, 23, 40, 47, 34, 42, 57, 30, 36, 74, 39, 44,
       37, 43, 53, 29, 46, 88, 40, 64, 48, 33, 44, 38, 41, 35, 50, 73, 26, 45, 61, 39,
       33, 46, 39, 56, 42, 20, 37, 48, 67, 31, 48, 36, 44, 40, 34, 58, 53, 41, 79, 38,
       39, 51, 32, 45, 43, 28, 37, 70, 35, 47, 42, 34, 47, 38, 60, 93, 44, 30, 50, 40,
       36, 45, 41, 54, 33, 49, 39, 66, 43, 25, 47, 40, 35, 44, 52, 77, 38, 62, 32, 46,
       41, 37, 49, 31, 43, 34, 58, 39, 45, 71, 38, 46, 42, 55, 36, 84, 44, 27, 40, 64,
       44, 33, 39, 48, 41, 18, 35, 69, 47, 37, 35, 43, 50, 38, 45, 40, 30, 56, 42, 73,
       46, 39, 34, 42, 37, 59, 63, 44, 51, 29, 40, 48, 36, 53, 32, 45, 41, 67, 38, 86,
       39, 46, 33, 42, 55, 37, 50, 64, 44, 29, 43, 36, 48, 40, 25, 59, 47, 35, 70, 41,
       34, 41, 52, 45, 38, 31, 44, 66, 39, 78, 47, 38, 43, 36, 61, 49, 73, 27, 42, 35,
       40, 53, 37, 44, 32, 46, 22, 39, 68, 51, 36, 42, 49, 39, 45, 57, 30, 34, 41, 63,
       44, 35, 40, 58, 43, 28, 46, 48, 37, 75, 38, 50, 45, 33, 41, 62, 81, 36, 43, 24,
       42, 39, 34, 47, 54, 40, 37, 71, 31, 45, 45, 37, 43, 41, 30, 52, 26, 38, 65, 48,
       35, 48, 40, 56, 36, 44, 87, 33, 42, 69, 41, 44, 38, 31, 49, 37, 19, 60, 46, 40,
       37, 43, 51, 42, 35, 47, 53, 29, 76, 39, 48, 40, 36, 45, 39, 65, 32, 43, 34, 57,
       43, 33, 47, 38, 52, 41, 80, 36, 62, 44, 39, 46, 42, 28, 44, 35, 37, 54, 40, 72,
       34, 41, 45, 49, 38, 60, 67, 42, 23, 47, 46, 38, 40, 35, 43, 50, 84, 31, 56, 39,
       40, 45, 37, 42, 33, 48, 58, 64, 41, 26, 38, 42, 49, 36, 46, 39, 90, 70, 44, 35,
       34, 62, 47, 25, 71, 40, 55, 81, 29, 50, 66, 38, 22, 58, 44, 76, 31, 53, 69, 42,
       27, 74, 51, 36, 63, 48, 21, 79, 45, 59, 57, 43, 80, 30, 52, 67, 39, 24, 61, 73,
       46, 26, 64, 77, 35, 54, 70, 41, 32, 82, 72, 49, 33, 60, 23, 45, 78, 56, 68, 37,
       39, 68, 56, 42, 75, 28, 61, 48, 20, 65, 61, 30, 44, 70, 53, 37, 82, 26, 57, 47,
       24, 55, 73, 40, 65, 51, 34, 67, 43, 29, 50, 78, 36, 63, 28, 59, 46, 72, 38, 56,
       75, 41, 59, 22, 48, 80, 33, 54, 64, 44, 43, 66, 28, 52, 74, 35, 62, 40, 77, 31,
       58, 35, 71, 47, 38, 65, 25, 60, 49, 76, 31, 52, 40, 79, 57, 23, 69, 44, 36, 63]

PER_MILLE = 1000.0
SERIES = [V1, V2, V3, V4, V5, V6, V7, V8, V9, V10]
DATA = [[v / PER_MILLE for v in s] for s in SERIES]

# ---- correlation labels (upper triangle, row by row) ----
CORR_TEXT = [
    ["0.048", "0.002", "-0.011", "-0.038", "-0.006", "-0.021", "0.011", "0.045", "0.018"],
    ["0.029", "-0.027", "-0.020", "0.003", "-0.049", "-0.036", "0.031", "-0.070*"],
    ["-0.005", "0.037", "0.013", "-0.045", "0.049", "0.040", "0.024"],
    ["0.068*", "-0.031", "-0.018", "-0.013", "-0.092**", "0.015"],
    ["-0.023", "0.010", "0.022", "-0.032", "0.024"],
    ["0.015", "0.028", "-0.040", "-0.009"],
    ["-0.025", "-0.046", "0.009"],
    ["0.006", "-0.052"],
    ["-0.053."],
]

# ---- density curves ----
# first curve in density units; the others as share of panel height
DENS_X = [
    [0.0192, 0.0218, 0.0255, 0.0305, 0.0355, 0.0418, 0.048, 0.0518, 0.0556, 0.0593, 0.0626, 0.0663, 0.0706,
     0.0739, 0.0769, 0.0806, 0.0844, 0.0889, 0.0944, 0.0982, 0.102, 0.1057, 0.112, 0.1195, 0.1257, 0.1327],
    [0.0446, 0.0495, 0.0543, 0.0598, 0.0654, 0.0701, 0.0741, 0.0772, 0.0796, 0.082, 0.0852, 0.0891, 0.0923,
     0.0963, 0.1002, 0.1042, 0.1081, 0.1121, 0.1161, 0.12, 0.124, 0.1287, 0.1335, 0.1374],
    [0.0187, 0.0224, 0.0272, 0.032, 0.036, 0.0391, 0.0423, 0.0455, 0.0495, 0.0543, 0.0582, 0.0603, 0.0622,
     0.0654, 0.0678, 0.0718, 0.075, 0.079, 0.0829, 0.0877, 0.0925, 0.0972, 0.102, 0.1068, 0.1116],
    [0.0182, 0.0231, 0.0281, 0.0342, 0.0403, 0.0474, 0.0545, 0.0596, 0.0647, 0.0707, 0.0768, 0.0819, 0.086,
     0.091, 0.0971, 0.1022, 0.1073, 0.1124, 0.1174, 0.1225, 0.1276, 0.1326, 0.1371],
    [0.0252, 0.0297, 0.0348, 0.0398, 0.044, 0.0482, 0.0524, 0.0567, 0.0609, 0.0651, 0.0684, 0.0715, 0.0743,
     0.0777, 0.0819, 0.0861, 0.0904, 0.0945, 0.0987, 0.1038, 0.1088, 0.1139, 0.1189, 0.1238],
    [0.0344, 0.0391, 0.0442, 0.0493, 0.0544, 0.0595, 0.0646, 0.0698, 0.074, 0.0791, 0.0842, 0.0876, 0.091,
     0.0945, 0.0979, 0.1021, 0.1064, 0.1098, 0.1132, 0.1175, 0.1226, 0.1285, 0.1344],
    [0.0195, 0.0239, 0.0291, 0.0334, 0.0369, 0.0412, 0.0464, 0.0515, 0.0567, 0.0619, 0.0671, 0.0723, 0.0766,
     0.0818, 0.087, 0.0921, 0.0973, 0.1025, 0.1077, 0.1129, 0.1172, 0.1209],
    [0.027, 0.0337, 0.0393, 0.0431, 0.0468, 0.0515, 0.0571, 0.0628, 0.0684, 0.0722, 0.0768, 0.0806, 0.0844,
     0.0881, 0.0924, 0.0965, 0.1012, 0.1059, 0.1106, 0.1144, 0.12, 0.1247, 0.1294, 0.1341, 0.1372],
    [0.0328, 0.044, 0.0494, 0.0538, 0.0601, 0.0646, 0.069, 0.0744, 0.0788, 0.0833, 0.0878, 0.0931, 0.0985,
     0.103, 0.1065, 0.1101, 0.1137, 0.1172, 0.1208, 0.1244, 0.1288, 0.1333, 0.1374],
    [0.018, 0.0213, 0.0244, 0.0275, 0.0306, 0.0326, 0.0347, 0.0368, 0.0398, 0.0429, 0.046, 0.0491, 0.0522,
     0.0553, 0.0594, 0.0639, 0.0677, 0.0708, 0.0748, 0.079, 0.0831, 0.0872, 0.0928],
]
DENS_Y = [
    [3.2, 5.9, 8.1, 9.0, 10.3, 12.5, 15.8, 18.4, 19.7, 19.1, 18.6, 19.2, 19.7, 19.1, 16.5, 11.8, 8.3, 5.3,
     2.9, 1.5, 0.66, 0.37, 0.26, 0.07, 0.04, 0.15],
    [0.078, 0.126, 0.233, 0.385, 0.552, 0.704, 0.840, 0.932, 0.962, 0.932, 0.863, 0.833, 0.795, 0.719, 0.673,
     0.650, 0.597, 0.521, 0.453, 0.309, 0.187, 0.111, 0.073, 0.058],
    [0.119, 0.179, 0.199, 0.225, 0.309, 0.460, 0.612, 0.734, 0.810, 0.886, 0.947, 0.959, 0.947, 0.856, 0.780,
     0.749, 0.643, 0.491, 0.354, 0.248, 0.164, 0.096, 0.053, 0.043, 0.043],
    [0.149, 0.293, 0.430, 0.567, 0.673, 0.757, 0.818, 0.840, 0.818, 0.726, 0.643, 0.620, 0.643, 0.734, 0.863,
     0.947, 0.962, 0.916, 0.795, 0.628, 0.460, 0.316, 0.202],
    [0.047, 0.053, 0.111, 0.202, 0.369, 0.521, 0.643, 0.780, 0.886, 0.916, 0.939, 0.959, 0.916, 0.764, 0.536,
     0.324, 0.263, 0.202, 0.134, 0.108, 0.096, 0.062, 0.047, 0.047],
    [0.083, 0.136, 0.235, 0.348, 0.402, 0.462, 0.545, 0.667, 0.742, 0.780, 0.795, 0.833, 0.917, 0.958, 0.932,
     0.803, 0.636, 0.439, 0.250, 0.152, 0.088, 0.064, 0.053],
    [0.094, 0.170, 0.321, 0.503, 0.685, 0.836, 0.912, 0.958, 0.927, 0.852, 0.730, 0.564, 0.458, 0.367, 0.261,
     0.215, 0.155, 0.124, 0.102, 0.064, 0.048, 0.048],
    [0.053, 0.066, 0.078, 0.116, 0.184, 0.223, 0.245, 0.284, 0.322, 0.367, 0.459, 0.581, 0.748, 0.901, 0.965,
     0.931, 0.825, 0.657, 0.505, 0.428, 0.322, 0.184, 0.093, 0.059, 0.053],
    [0.049, 0.053, 0.064, 0.073, 0.070, 0.094, 0.155, 0.200, 0.253, 0.352, 0.451, 0.534, 0.625, 0.671, 0.762,
     0.868, 0.936, 0.959, 0.936, 0.838, 0.656, 0.458, 0.249],
    [0.090, 0.160, 0.276, 0.417, 0.545, 0.660, 0.814, 0.917, 0.962, 0.917, 0.814, 0.660, 0.506, 0.391, 0.327,
     0.301, 0.312, 0.250, 0.186, 0.154, 0.083, 0.051, 0.047],
]

# ---- scales ----
AXIS_RANGE = [[0.0135, 0.1385], [0.040, 0.1422], [0.014, 0.1165], [0.0123, 0.143], [0.0203, 0.1287],
              [0.0294, 0.1394], [0.0144, 0.126], [0.0215, 0.1427], [0.0276, 0.1426], [0.0143, 0.0965]]
MAJOR = [[0.05, 0.10], [0.04, 0.06, 0.08, 0.10, 0.12, 0.14], [0.03, 0.06, 0.09], [0.05, 0.10],
         [0.025, 0.05, 0.075, 0.10, 0.125], [0.03, 0.06, 0.09, 0.12], [0.025, 0.05, 0.075, 0.10, 0.125],
         [0.05, 0.10], [0.03, 0.06, 0.09, 0.12], [0.025, 0.05, 0.075]]
MAJOR_TEXT = [["0.05", "0.10"], ["0.04", "0.06", "0.08", "0.10", "0.12", "0.14"], ["0.03", "0.06", "0.09"],
              ["0.05", "0.10"], ["0.025", "0.050", "0.075", "0.100", "0.125"], ["0.03", "0.06", "0.09", "0.12"],
              ["0.025", "0.050", "0.075", "0.100", "0.125"], ["0.05", "0.10"], ["0.03", "0.06", "0.09", "0.12"],
              ["0.025", "0.050", "0.075"]]
MINOR = [[0.025, 0.075, 0.125], [0.05, 0.07, 0.09, 0.11, 0.13], [0.015, 0.045, 0.075, 0.105],
         [0.025, 0.075, 0.125], [0.0375, 0.0625, 0.0875, 0.1125], [0.045, 0.075, 0.105, 0.135],
         [0.0375, 0.0625, 0.0875, 0.1125], [0.025, 0.075, 0.125], [0.045, 0.075, 0.105, 0.135],
         [0.0375, 0.0625, 0.0875]]
DENS1_RANGE = [-0.93, 20.49]
DENS1_TICKS = [0, 5, 10, 15, 20]
DENS1_MINOR = [2.5, 7.5, 12.5, 17.5]
DENS_REL_RANGE = [0, 1]
DENS_REL_MAJOR = [0.1, 0.3, 0.5, 0.7, 0.9]
DENS_REL_MINOR = [0.2, 0.4, 0.6, 0.8, 1.0]

# ---- geometry (pixels) ----
W, H = 3000, 3000
L, R, T, B = 136, 2906, 95, 2922
NV = 10
PW, PH = 255, 260
GX = (R - L - NV * PW) / (NV - 1)
GY = (B - T - NV * PH) / (NV - 1)
AW, AH = R - L, B - T


def xdom(j):
    x0 = L + j * (PW + GX)
    return [(x0 - L) / AW, (x0 + PW - L) / AW]


def ydom(i):
    y0 = T + i * (PH + GY)
    return [1 - (y0 + PH - T) / AH, 1 - (y0 - T) / AH]


GRID = "#EBEBEB"
BORDER = "#333333"
common = dict(showgrid=True, gridcolor=GRID, gridwidth=3, zeroline=False, showline=True, mirror=True,
              linecolor=BORDER, linewidth=2.5, ticklen=11, tickwidth=2, tickcolor=BORDER,
              tickfont=dict(size=32, color="#4D4D4D", family=FONT), tickangle=0, fixedrange=True,
              tickmode="array")

fig = go.Figure()
layout = {}
annotations = []
shapes = []

for i in range(NV):
    for j in range(NV):
        n = i * NV + j + 1
        xa = "x" if n == 1 else f"x{n}"
        ya = "y" if n == 1 else f"y{n}"
        xk = "xaxis" if n == 1 else f"xaxis{n}"
        yk = "yaxis" if n == 1 else f"yaxis{n}"

        bottom = i == NV - 1
        left = j == 0
        layout[xk] = dict(domain=xdom(j), range=AXIS_RANGE[j], anchor=ya,
                          tickvals=MAJOR[j], ticktext=MAJOR_TEXT[j],
                          showticklabels=bottom, ticks="outside" if bottom else "",
                          minor=dict(tickmode="array", tickvals=MINOR[j], showgrid=True,
                                     gridcolor=GRID, gridwidth=1.5, ticks=""),
                          **common)
        if i == j and i == 0:
            yr, yt, ytt, ym = DENS1_RANGE, DENS1_TICKS, [str(t) for t in DENS1_TICKS], DENS1_MINOR
        elif i == j:
            yr, yt, ytt, ym = DENS_REL_RANGE, DENS_REL_MAJOR, ["" for _ in DENS_REL_MAJOR], DENS_REL_MINOR
        else:
            yr, yt, ytt, ym = AXIS_RANGE[i], MAJOR[i], MAJOR_TEXT[i], MINOR[i]
        layout[yk] = dict(domain=ydom(i), range=yr, anchor=xa, tickvals=yt, ticktext=ytt,
                          showticklabels=left, ticks="outside" if left else "",
                          minor=dict(tickmode="array", tickvals=ym, showgrid=True,
                                     gridcolor=GRID, gridwidth=1.5, ticks=""),
                          **common)

        if i > j:
            fig.add_trace(go.Scatter(x=DATA[j], y=DATA[i], mode="markers", xaxis=xa, yaxis=ya,
                                     marker=dict(color="black", size=19, line=dict(width=0)),
                                     hoverinfo="skip", showlegend=False))
        elif i == j:
            fig.add_trace(go.Scatter(x=DENS_X[i], y=DENS_Y[i], mode="lines", xaxis=xa, yaxis=ya,
                                     line=dict(color="black", width=3.2, shape="spline", smoothing=0.8),
                                     hoverinfo="skip", showlegend=False))
        else:
            xc = sum(xdom(j)) / 2
            yc = sum(ydom(i)) / 2
            for txt, shift in (("Corr:", 34), (CORR_TEXT[i][j - i - 1], -34)):
                annotations.append(dict(x=xc, y=yc, xref="paper", yref="paper", text=txt,
                                        showarrow=False, xanchor="center", yanchor="middle",
                                        yshift=shift,
                                        font=dict(size=45, color="#737373", family=FONT)))

# strips
STRIP_FILL = "#D9D9D9"
top0, top1 = 1.0, 1 + (T - 23) / AH
right0, right1 = 1.0, 1 + (2976 - R) / AW
for j in range(NV):
    d = xdom(j)
    shapes.append(dict(type="rect", xref="paper", yref="paper", x0=d[0], x1=d[1], y0=top0, y1=top1,
                       fillcolor=STRIP_FILL, line=dict(color=BORDER, width=2.5), layer="above"))
    annotations.append(dict(x=(d[0] + d[1]) / 2, y=(top0 + top1) / 2, xref="paper", yref="paper",
                            text=LABELS[j], showarrow=False, xanchor="center", yanchor="middle",
                            font=dict(size=32, color="#1A1A1A", family=FONT)))
for i in range(NV):
    d = ydom(i)
    shapes.append(dict(type="rect", xref="paper", yref="paper", x0=right0, x1=right1, y0=d[0], y1=d[1],
                       fillcolor=STRIP_FILL, line=dict(color=BORDER, width=2.5), layer="above"))
    annotations.append(dict(x=(right0 + right1) / 2, y=(d[0] + d[1]) / 2, xref="paper", yref="paper",
                            text=LABELS[i], showarrow=False, xanchor="center", yanchor="middle",
                            textangle=90, font=dict(size=32, color="#1A1A1A", family=FONT)))

fig.update_layout(**layout)
fig.update_layout(width=W, height=H, margin=dict(l=L, r=W - R, t=T, b=H - B, pad=0),
                  paper_bgcolor="white", plot_bgcolor="white", showlegend=False,
                  font=dict(family=FONT), annotations=annotations, shapes=shapes)

fig.write_html("out.html")
